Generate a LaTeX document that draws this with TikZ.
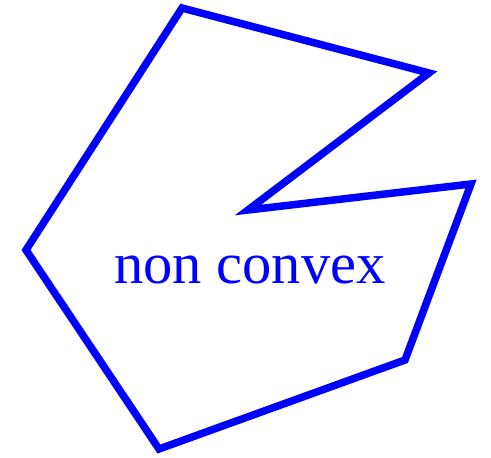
\documentclass[tikz,border=0pt]{standalone}
\usepackage{fontspec}
\setmainfont{Liberation Serif}
\definecolor{shapeblue}{HTML}{0000FF}
\tikzset{
  outline/.style={draw=shapeblue, line width=7.5pt, miter limit=10},
  caption/.style={text=shapeblue, font=\fontsize{58.5}{60}\selectfont, inner sep=0pt, anchor=base}
}
\begin{document}
\begin{tikzpicture}[x=1pt, y=-1pt]
  \useasboundingbox (0,0) rectangle (491,458);

  % Polygon corners
  \coordinate (top) at (182,8);
  \coordinate (tipa) at (429,73);
  \coordinate (notch) at (248,210);
  \coordinate (tipb) at (471,184);
  \coordinate (lowr) at (405,360);
  \coordinate (bottom) at (159,449);
  \coordinate (left) at (26,250);

  \draw[outline] (top) -- (tipa) -- (notch) -- (tipb) -- (lowr) -- (bottom) -- (left) -- cycle;

  \node[caption] (label) at (250,283) {non convex};
\end{tikzpicture}
\end{document}
